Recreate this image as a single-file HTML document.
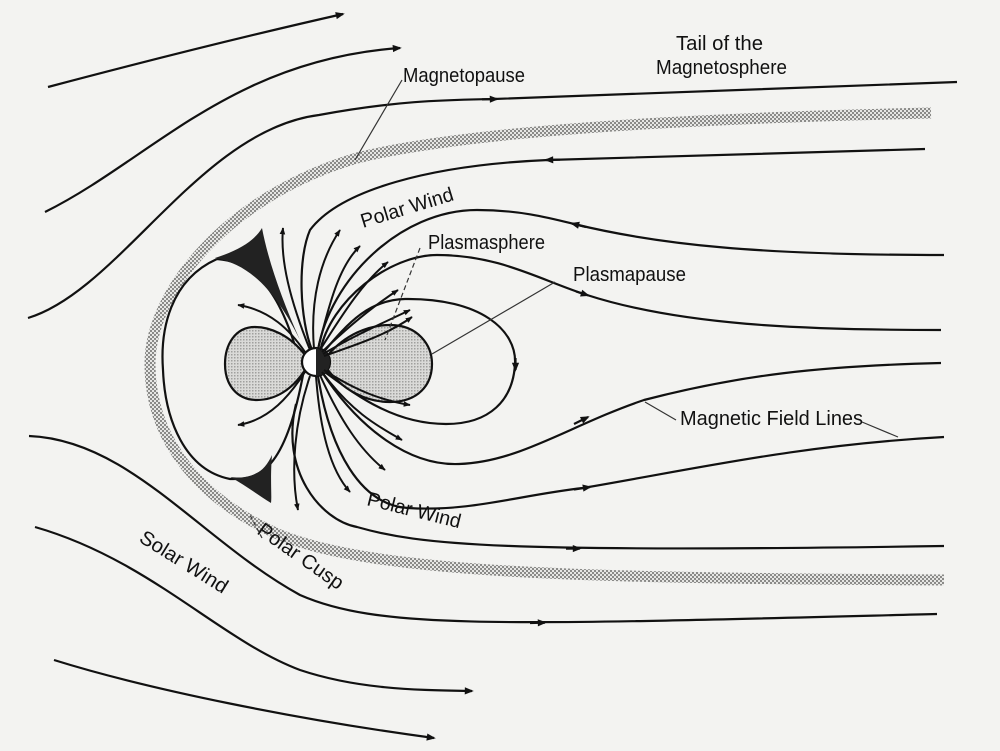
<!DOCTYPE html>
<html><head><meta charset="utf-8"><style>
html,body{margin:0;padding:0;background:#f3f3f1;}
svg{display:block}
text{font-family:"Liberation Sans",sans-serif;font-size:20px;fill:#111;}
</style></head><body>
<svg width="1000" height="751" viewBox="0 0 1000 751" xmlns="http://www.w3.org/2000/svg">
<defs>
<marker id="a" viewBox="0 0 10 10" refX="9" refY="5" markerWidth="7" markerHeight="7" orient="auto" markerUnits="userSpaceOnUse"><path d="M0,1 L10,5 L0,9 z" fill="#111"/></marker>
<marker id="b" viewBox="0 0 10 10" refX="8" refY="5" markerWidth="11" markerHeight="9" orient="auto" markerUnits="userSpaceOnUse"><path d="M0,1 L10,5 L0,9 z" fill="#111"/></marker>
<pattern id="st" width="4" height="4" patternUnits="userSpaceOnUse"><rect width="4" height="4" fill="#e6e6e4"/><rect width="2" height="2" fill="#8a8a88"/><rect x="2" y="2" width="2" height="2" fill="#8a8a88"/></pattern>
<pattern id="st2" width="3" height="3" patternUnits="userSpaceOnUse"><rect width="3" height="3" fill="#dadad8"/><rect width="1.5" height="1.5" fill="#a0a09e"/></pattern>
</defs>
<rect width="1000" height="751" fill="#f3f3f1"/>
<g fill="none" stroke="#111" stroke-width="2.2">
<path d="M931,113 C700,118 470,130 357,158 C230,195 150,290 150,364 C150,440 200,500 280,535 C380,575 600,578 944,580" stroke="url(#st)" stroke-width="11"/>
<path d="M48,87 C150,60 250,35 343,14" marker-end="url(#b)"/>
<path d="M45,212 C150,160 230,60 400,48" marker-end="url(#b)"/>
<path d="M28,318 C120,290 200,130 319,115 C400,100 450,100 494,99 L957,82"/>
<path d="M482,99.4 L497,99" marker-end="url(#b)"/>
<path d="M29,436 C130,440 200,540 300,595 C380,630 500,625 937,614"/>
<path d="M530,623 L545,622.6" marker-end="url(#b)"/>
<path d="M35,527 C150,560 220,640 300,670 C360,690 420,690 472,691" marker-end="url(#b)"/>
<path d="M54,660 C150,690 300,720 434,738" marker-end="url(#b)"/>
<path d="M925,149 L548,160 C430,165 340,190 310,230 C297,260 300,320 312,350"/>
<path d="M560,159.6 L546,160" marker-end="url(#b)"/>
<path d="M296,404 C280,470 320,520 357,527 C420,545 500,553 944,546"/>
<path d="M566,548.6 L580,548.5" marker-end="url(#b)"/>
<path d="M217,259 C170,280 160,330 163,370 C165,420 185,470 230,479 C260,480 285,470 303,375 C285,300 260,262 217,259"/>
<path d="M318,350 C330,280 400,210 477,210 C520,210 550,218 574,224 C660,245 760,255 944,255"/>
<path d="M586,227 L572,223.5" marker-end="url(#b)"/>
<path d="M320,352 C330,300 390,255 437,255 C500,255 540,280 587,295 C680,325 800,330 941,330"/>
<path d="M576,291.5 L588,295.3" marker-end="url(#b)"/>
<path d="M322,354 C350,320 370,300 405,299 C480,298 517,330 515,364 C513,400 490,424 446,424 C390,424 350,390 322,370"/>
<path d="M515.5,358 L515.5,370" marker-end="url(#b)"/>
<path d="M322,372 C360,430 410,466 459,464 C520,462 570,425 644,400 C740,375 820,366 941,363"/>
<path d="M574,424 L588,417" marker-end="url(#b)"/>
<path d="M318,376 C330,450 360,505 408,508 C470,512 520,495 583,488 C700,468 800,445 944,437"/>
<path d="M574,489.5 L590,487" marker-end="url(#b)"/>
</g>
<g stroke="#111" stroke-width="2.2" fill="url(#st2)">
<path d="M305,355 C290,335 270,327 255,327 C235,327 225,345 225,364 C225,385 237,400 257,400 C275,400 292,390 305,370 Z"/>
<path d="M328,355 C345,335 368,325 390,325 C418,325 432,345 432,364 C432,385 418,402 390,402 C368,402 345,392 328,370 Z"/>
</g>
<path d="M215,258 C240,250 255,240 262,228 C268,260 282,300 300,340 C280,300 255,265 215,258 Z" fill="#222"/>
<path d="M230,477 C255,480 265,470 272,455 C270,480 272,495 271,503 C258,495 245,485 230,477 Z" fill="#222"/>
<circle cx="316" cy="362" r="14" fill="#fff" stroke="#111" stroke-width="2.2"/>
<path d="M316,348 A14,14 0 0 1 316,376 Z" fill="#222"/>
<g fill="none" stroke="#111" stroke-width="2" marker-end="url(#a)">
<path d="M310,350 C290,300 280,260 283,228"/>
<path d="M314,349 C310,300 320,260 340,230"/>
<path d="M318,349 C330,300 340,265 360,246"/>
<path d="M320,350 C345,310 365,280 388,262"/>
<path d="M322,352 C350,325 375,305 398,290"/>
<path d="M323,354 C355,335 385,322 410,310"/>
<path d="M324,356 C355,345 385,336 412,317"/>
<path d="M305,352 C290,330 270,310 238,305"/>
<path d="M305,372 C290,395 270,420 238,425"/>
<path d="M310,376 C295,420 290,470 298,510"/>
<path d="M316,376 C320,430 330,470 350,492"/>
<path d="M320,375 C340,420 360,450 385,470"/>
<path d="M322,372 C350,410 375,425 402,440"/>
<path d="M324,370 C355,390 380,400 410,405"/>
</g>
<g stroke="#333" stroke-width="1.2" fill="none">
<path d="M402,80 L355,160"/>
<path d="M420,248 L385,340" stroke-dasharray="5,3"/>
<path d="M555,282 L432,354"/>
<path d="M676,420 L645,402"/>
<path d="M862,422 L898,437"/>
<path d="M262,538 L250,515" stroke-dasharray="4,3"/>
</g>
<g lengthAdjust="spacingAndGlyphs">
<text x="676" y="50" textLength="87" lengthAdjust="spacingAndGlyphs">Tail of the</text>
<text x="656" y="74" textLength="131" lengthAdjust="spacingAndGlyphs">Magnetosphere</text>
<text x="403" y="82" textLength="122" lengthAdjust="spacingAndGlyphs">Magnetopause</text>
<text x="363" y="228" transform="rotate(-17 363 228)" textLength="96" lengthAdjust="spacingAndGlyphs">Polar Wind</text>
<text x="428" y="249" textLength="117" lengthAdjust="spacingAndGlyphs">Plasmasphere</text>
<text x="573" y="281" textLength="113" lengthAdjust="spacingAndGlyphs">Plasmapause</text>
<text x="680" y="425" textLength="183" lengthAdjust="spacingAndGlyphs">Magnetic Field Lines</text>
<text x="366" y="505" transform="rotate(14 366 505)" textLength="96" lengthAdjust="spacingAndGlyphs">Polar Wind</text>
<text x="138" y="541" transform="rotate(32 138 541)" textLength="100" lengthAdjust="spacingAndGlyphs">Solar Wind</text>
<text x="256" y="533" transform="rotate(35 256 533)" textLength="100" lengthAdjust="spacingAndGlyphs">Polar Cusp</text>
</g>
</svg>
</body></html>
